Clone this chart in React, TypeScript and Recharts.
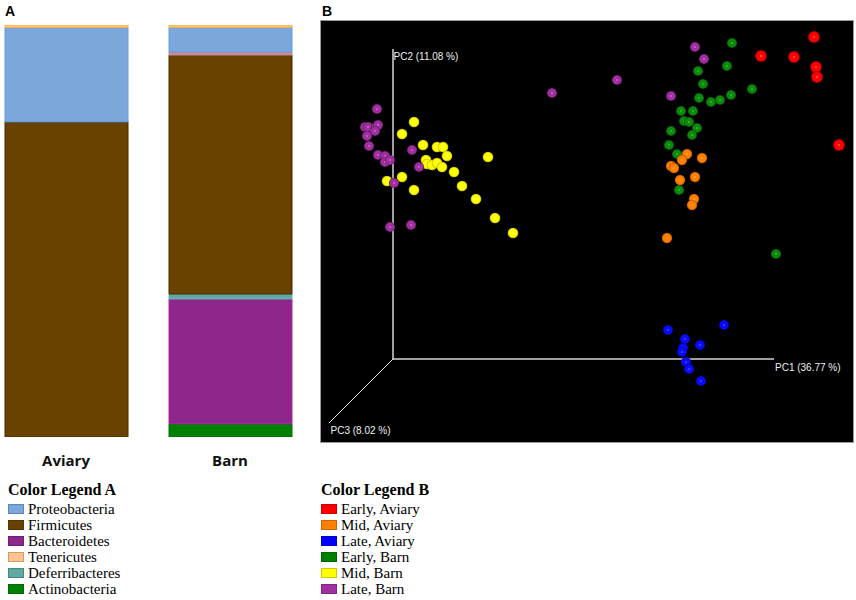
import React from 'react';

import { Bar, BarChart, ReferenceDot, ReferenceLine, Scatter, ScatterChart, XAxis, YAxis } from 'recharts';

// Panel A: relative abundance (% of reads) per housing system
const sites = ['Aviary', 'Barn'];
const actinobacteria = [0, 3.2];
const bacteroidetes = [0, 30.3];
const deferribacteres = [0, 1.2];
const firmicutes = [76.5, 58.0];
const unassigned = [0, 0.8];
const proteobacteria = [22.9, 5.9];
const tenericutes = [0.6, 0.6];

// Panel B: projected PCoA positions [x, y] per group
const earlyAviary = [
  [4.21, 3.22], [3.68, 3.03], [4.01, 3.02], [4.23, 2.92], [4.24, 2.82], [4.46, 2.14],
];
const midAviary = [
  [2.94, 2.05], [3.09, 2.01], [2.89, 1.99], [2.78, 1.93], [2.81, 1.91],
  [3.02, 1.82], [2.87, 1.79], [3.01, 1.6], [2.99, 1.54], [2.74, 1.21],
];
const lateAviary = [
  [2.75, 0.29], [3.31, 0.34], [2.92, 0.2], [3.07, 0.14], [2.9, 0.11],
  [2.89, 0.07], [2.93, -0.03], [2.96, -0.1], [3.08, -0.22],
];
const earlyBarn = [
  [3.39, 3.16], [3.34, 2.93], [3.05, 2.88], [3.1, 2.75], [3.59, 2.7], [3.06, 2.61],
  [3.18, 2.57], [3.27, 2.59], [3.38, 2.64], [2.88, 2.48], [3.0, 2.48], [2.91, 2.38],
  [2.96, 2.37], [3.04, 2.31], [2.78, 2.28], [2.99, 2.24], [2.76, 2.14], [2.84, 2.05],
  [2.86, 1.69], [3.83, 1.05],
];
const midBarn = [
  [0.21, 2.37], [0.09, 2.25], [0.3, 2.14], [0.44, 2.12], [0.5, 2.12], [0.54, 2.03],
  [0.33, 1.99], [0.34, 1.95], [0.39, 1.94], [0.44, 1.96], [0.49, 1.92], [0.61, 1.87],
  [0.95, 2.02], [-0.06, 1.78], [0.09, 1.82], [0.21, 1.69], [0.69, 1.73], [0.83, 1.6],
  [1.02, 1.41], [1.2, 1.26],
];
const lateBarn = [
  [-0.16, 2.5], [-0.28, 2.32], [-0.25, 2.32], [-0.17, 2.32], [-0.15, 2.34], [-0.18, 2.28],
  [-0.26, 2.23], [-0.24, 2.13], [-0.15, 2.04], [-0.08, 2.03], [-0.08, 1.97], [-0.03, 1.99],
  [0.19, 2.09], [0.26, 1.92], [0.01, 1.76], [-0.03, 1.32], [0.18, 1.34], [1.59, 2.66],
  [2.24, 2.79], [2.78, 2.63], [3.02, 3.12], [3.11, 3.0],
];

// axis lengths in projected units and the explained variance labels
const pc1End = 3.81;
const pc2End = 3.1;
const pc3End = -0.64;
const pcLabels = ['PC1 (36.77 %)', 'PC2 (11.08 %)', 'PC3 (8.02 %)'];

const phyla = [
  { key: 'Proteobacteria', values: proteobacteria, fill: '#7ba7db', stroke: '#5e9ff0' },
  { key: 'Firmicutes', values: firmicutes, fill: '#6a4200', stroke: '#4a2800' },
  { key: 'Bacteroidetes', values: bacteroidetes, fill: '#8e268c', stroke: '#b020b0' },
  { key: 'Tenericutes', values: tenericutes, fill: '#ffc48c', stroke: '#f8ad45' },
  { key: 'Deferribacteres', values: deferribacteres, fill: '#5fa8a3', stroke: '#60b8b0' },
  { key: 'Actinobacteria', values: actinobacteria, fill: '#008000', stroke: '#007400' },
];
const other = { key: 'Other', values: unassigned, fill: '#c48a96', stroke: '#c48a96' };
const stackOrder = ['Actinobacteria', 'Bacteroidetes', 'Deferribacteres', 'Firmicutes', 'Other', 'Proteobacteria', 'Tenericutes'];

const groups = [
  { id: 'earlyAviary', name: 'Early, Aviary', points: earlyAviary, base: '#ff0000', light: '#ffa0a0', dark: '#a80000', r: 5.9 },
  { id: 'midAviary', name: 'Mid, Aviary', points: midAviary, base: '#ff7f00', light: '#ffc080', dark: '#b05000', r: 5.2 },
  { id: 'lateAviary', name: 'Late, Aviary', points: lateAviary, base: '#0a0aff', light: '#8080ff', dark: '#0000a0', r: 5.1 },
  { id: 'earlyBarn', name: 'Early, Barn', points: earlyBarn, base: '#0b8a0b', light: '#60e060', dark: '#044a04', r: 5.1 },
  { id: 'midBarn', name: 'Mid, Barn', points: midBarn, base: '#ffff00', light: '#ffffa0', dark: '#b8b800', r: 5.3 },
  { id: 'lateBarn', name: 'Late, Barn', points: lateBarn, base: '#a030a0', light: '#f0a0f0', dark: '#601860', r: 5.1 },
];
const legendB = ['#ff0000', '#ff7f00', '#0000ff', '#007f00', '#ffff00', '#a02fa0'];
const drawOrder = ['earlyBarn', 'midBarn', 'midAviary', 'lateBarn', 'earlyAviary', 'lateAviary'];

const rows = sites.map((site, i) => {
  const row: Record<string, string | number> = { site };
  [...phyla, other].forEach((p) => (row[p.key] = p.values[i]));
  return row;
});

const ballShape = (id: string, r: number) => (p: any) => (
  <circle cx={p.cx} cy={p.cy} r={r} fill={`url(#ball-${id})`} />
);

const axisLabel = (text: string, dx: number, dy: number) => (p: any) => {
  const vb = p.viewBox || {};
  return (
    <text x={vb.x + dx} y={vb.y + dy} fill="#eeeeee" fontSize={10} fontFamily='"Liberation Sans", Arial, sans-serif'>
      {text}
    </text>
  );
};

const serif = '"Liberation Serif", "Times New Roman", serif';

function Legend({ title, items, left }: { title: string; items: { name: string; fill: string }[]; left: number }) {
  return (
    <div style={{ position: 'absolute', left, top: 481, fontFamily: serif, color: '#000' }}>
      <div style={{ fontWeight: 'bold', fontSize: 16, lineHeight: '18px', marginBottom: 2 }}>{title}</div>
      {items.map((it) => (
        <div key={it.name} style={{ display: 'flex', alignItems: 'center', height: 16, fontSize: 15 }}>
          <span style={{ width: 16, height: 10, background: it.fill, boxSizing: 'border-box', border: '1px solid rgba(0,0,0,0.2)', marginRight: 4 }} />
          <span style={{ lineHeight: '16px' }}>{it.name}</span>
        </div>
      ))}
    </div>
  );
}

export default function App() {
  const all = [...phyla, other];
  return (
    <div style={{ position: 'relative', width: 856, height: 600, background: '#fff' }}>
      <style>{'body{margin:0}'}</style>
      <svg width={0} height={0} style={{ position: 'absolute' }}>
        <defs>
          {groups.map((g) => (
            <radialGradient key={g.id} id={`ball-${g.id}`} cx="50%" cy="50%" r="50%">
              <stop offset="0" stopColor={g.light} />
              <stop offset="0.22" stopColor={g.base} />
              <stop offset="0.7" stopColor={g.base} />
              <stop offset="1" stopColor={g.dark} />
            </radialGradient>
          ))}
        </defs>
      </svg>

      <div style={{ position: 'absolute', left: 5, top: 3, fontFamily: '"Liberation Sans", Arial, sans-serif', fontWeight: 'bold', fontSize: 14 }}>A</div>
      <div style={{ position: 'absolute', left: 322, top: 3, fontFamily: '"Liberation Sans", Arial, sans-serif', fontWeight: 'bold', fontSize: 14 }}>B</div>

      <div style={{ position: 'absolute', left: -16, top: 0 }}>
        <BarChart width={328} height={477} data={rows} margin={{ top: 25, right: 0, bottom: 0, left: 0 }} barSize={123}>
          <XAxis
            dataKey="site"
            axisLine={false}
            tickLine={false}
            tickMargin={12}
            height={40}
            interval={0}
            tick={{ fill: '#111', fontSize: 15, fontWeight: 700, fontFamily: '"Open Sans", sans-serif' }}
          />
          <YAxis hide domain={[0, 100]} allowDataOverflow />
          {stackOrder.map((k) => {
            const p = all.find((x) => x.key === k)!;
            return <Bar key={k} dataKey={k} stackId="a" fill={p.fill} stroke={p.stroke} strokeWidth={1} isAnimationActive={false} />;
          })}
        </BarChart>
      </div>

      <div style={{ position: 'absolute', left: 320, top: 20, width: 532, height: 421, background: '#000', border: '1px solid #9a9a9a' }}>
        <ScatterChart width={532} height={421} margin={{ top: 0, right: 0, bottom: 0, left: 0 }}>
          <XAxis type="number" dataKey="x" hide domain={[-0.72, 4.6]} allowDataOverflow />
          <YAxis type="number" dataKey="y" hide domain={[-0.83, 3.38]} allowDataOverflow />
          <ReferenceLine segment={[{ x: 0, y: 0 }, { x: pc1End, y: 0 }]} stroke="#d4d4d4" strokeWidth={1.5} />
          <ReferenceLine segment={[{ x: 0, y: 0 }, { x: 0, y: pc2End }]} stroke="#d4d4d4" strokeWidth={1.5} />
          <ReferenceLine segment={[{ x: 0, y: 0 }, { x: pc3End, y: pc3End }]} stroke="#e8e8e8" strokeWidth={1} />
          <ReferenceDot x={pc1End} y={0} r={0} fill="none" stroke="none" label={axisLabel(pcLabels[0], 1, 11.5)} />
          <ReferenceDot x={0} y={pc2End} r={0} fill="none" stroke="none" label={axisLabel(pcLabels[1], 0.5, 10.5)} />
          <ReferenceDot x={pc3End} y={pc3End} r={0} fill="none" stroke="none" label={axisLabel(pcLabels[2], 1.5, 11)} />
          {drawOrder.map((id) => {
            const g = groups.find((x) => x.id === id)!;
            return (
              <Scatter
                key={id}
                name={g.name}
                data={g.points.map(([x, y]) => ({ x, y }))}
                fill={g.base}
                shape={ballShape(g.id, g.r)}
                isAnimationActive={false}
              />
            );
          })}
        </ScatterChart>
      </div>

      <Legend title="Color Legend A" left={8} items={phyla.map((p) => ({ name: p.key, fill: p.fill }))} />
      <Legend title="Color Legend B" left={321} items={groups.map((g, i) => ({ name: g.name, fill: legendB[i] }))} />
    </div>
  );
}
